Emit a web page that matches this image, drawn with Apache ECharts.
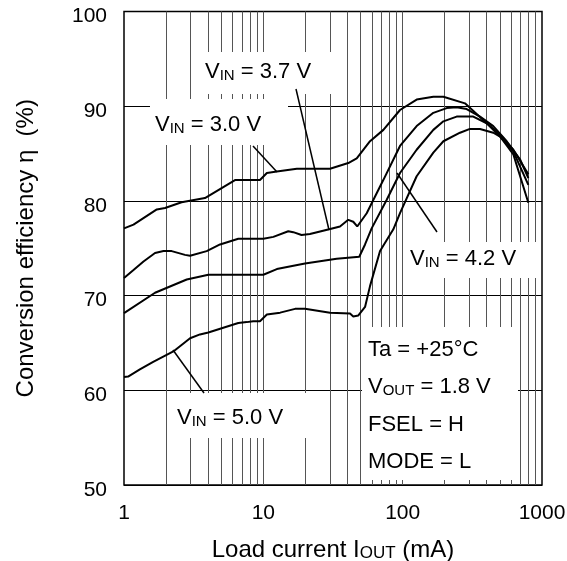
<!DOCTYPE html>
<html><head><meta charset="utf-8">
<script src="https://cdn.jsdelivr.net/npm/echarts@6/dist/echarts.min.js"></script>
<style>html,body{margin:0;padding:0;background:#fff}#c{width:567px;height:561px}</style>
</head><body><div id="c"></div>
<script>
// ---- data ----
const xTickLabels = ['1', '10', '100', '1000'];
const yTickLabels = ['50', '60', '70', '80', '90', '100'];
const gridCurrents = [2,3,4,5,6,7,8,9,10,20,30,40,50,60,70,80,90,100,200,300,400,500,600,700,800,900];

const iout_v30 = [1, 1.17, 1.72, 1.97, 2.59, 3.81, 6.26, 9.46, 10.6, 12.5, 17.4, 30.1, 40.7, 46.8, 58.3, 72.7, 95.7, 126, 166, 196, 280, 401, 500, 623, 798];
const eff_v30  = [77.1, 77.5, 79.1, 79.25, 79.85, 80.3, 82.2, 82.2, 82.95, 83.1, 83.4, 83.4, 84.0, 84.5, 86.3, 87.5, 89.6, 90.7, 91.0, 91.0, 90.3, 88.2, 86.8, 84.9, 79.8];

const iout_v37 = [1, 1.17, 1.38, 1.67, 1.92, 2.2, 2.74, 2.98, 3.92, 4.89, 6.61, 10, 11.8, 15.1, 16.4, 18.8, 21.6, 29.7, 35.5, 40.7, 44.2, 47.2, 55.2, 72.6, 95.7, 126, 166, 207, 244, 288, 359, 447, 558, 695, 798];
const eff_v37  = [71.85, 72.7, 73.6, 74.5, 74.7, 74.7, 74.3, 74.2, 74.7, 75.4, 76.0, 76.0, 76.2, 76.8, 76.7, 76.4, 76.5, 77.0, 77.3, 78.0, 77.8, 77.3, 78.7, 82.2, 85.8, 87.9, 89.3, 89.8, 89.9, 89.7, 88.9, 87.9, 86.3, 84.4, 82.4];

const iout_v42 = [1, 1.67, 2.82, 4.03, 10, 12.5, 19.9, 33.6, 48.8, 53.7, 59.9, 76.7, 95.7, 126, 166, 196, 244, 321, 401, 500, 623, 798];
const eff_v42  = [68.15, 70.3, 71.7, 72.2, 72.2, 72.8, 73.4, 73.9, 74.1, 75.4, 77.1, 80.1, 82.95, 85.4, 87.5, 88.4, 88.9, 88.9, 88.2, 87.0, 85.4, 82.8];

const iout_v50 = [1, 1.07, 1.3, 1.62, 2.26, 2.98, 3.51, 4.03, 5.16, 6.61, 7.6, 8.47, 9.46, 10.6, 13.2, 16.9, 19.9, 30.1, 41.9, 44.2, 48.1, 53.7, 58.3, 68.8, 85.7, 95.7, 126, 166, 196, 258, 304, 359, 447, 500, 623, 798];
const eff_v50  = [61.4, 61.45, 62.2, 63.0, 64.1, 65.5, 65.9, 66.1, 66.6, 67.1, 67.2, 67.3, 67.3, 68.0, 68.2, 68.6, 68.6, 68.2, 68.1, 67.8, 67.9, 68.8, 71.0, 74.7, 77.0, 78.7, 82.6, 85.1, 86.3, 87.2, 87.6, 87.6, 87.2, 86.8, 85.2, 81.7];

// ---- chart ----
const FONT = "'Liberation Sans', Arial, sans-serif";
const pairs = (xs, ys) => xs.map((x, i) => [x, ys[i]]);
const curve = (name, xs, ys) => ({
  name, type: 'line', data: pairs(xs, ys), showSymbol: false, symbol: 'none',
  smooth: false, z: 20, lineStyle: { color: '#000', width: 2 }, silent: true
});

const chart = echarts.init(document.getElementById('c'), null, { renderer: 'canvas' });

const richV = {
  a: { fontSize: 22, fontFamily: FONT, color: '#000', verticalAlign: 'bottom', lineHeight: 24 },
  b: { fontSize: 15, fontFamily: FONT, color: '#000', verticalAlign: 'bottom', lineHeight: 23 }
};
function box(x, y, w, h) {
  return { type: 'rect', z: 10, silent: true, shape: { x, y, width: w, height: h }, style: { fill: '#fff' } };
}
function richText(x, y, t) {
  return { type: 'text', z: 12, silent: true, x, y,
    style: { text: t, rich: richV, verticalAlign: 'middle', textVerticalAlign: 'middle' } };
}
function vinText(x, y, v) { return richText(x, y, '{a|V}{b|IN}{a| = ' + v + ' V}'); }
function leader(x1, y1, x2, y2) {
  return { type: 'line', z: 15, silent: true, shape: { x1, y1, x2, y2 }, style: { stroke: '#000', lineWidth: 1.5 } };
}

chart.setOption({
  animation: false,
  backgroundColor: '#fff',
  grid: { left: 124, right: 25, top: 11.5, bottom: 76, containLabel: false, outerBoundsMode: 'none',
          show: true, borderColor: '#000', borderWidth: 1.5, backgroundColor: 'transparent' },
  xAxis: {
    type: 'log', logBase: 10, min: 1, max: 1000,
    name: 'Load current I{s|OUT} (mA)', nameLocation: 'middle', nameGap: 53,
    nameTextStyle: { fontSize: 24, fontFamily: FONT, color: '#000',
      rich: { s: { fontSize: 17, fontFamily: FONT, color: '#000', verticalAlign: 'bottom', lineHeight: 23 } } },
    axisLine: { show: false }, axisTick: { show: false }, splitLine: { show: false },
    axisLabel: { fontSize: 21, fontFamily: FONT, color: '#000', margin: 18,
      formatter: (v) => xTickLabels.includes(String(Math.round(v))) ? String(Math.round(v)) : '' }
  },
  yAxis: {
    type: 'value', min: 50, max: 100, interval: 10,
    name: 'Conversion efficiency η  (%)', nameLocation: 'middle', nameGap: 86,
    nameTextStyle: { fontSize: 24, fontFamily: FONT, color: '#000' },
    axisLine: { show: false }, axisTick: { show: false },
    splitLine: { show: true, lineStyle: { color: '#000', width: 1 } },
    axisLabel: { fontSize: 21, fontFamily: FONT, color: '#000', margin: 17,
      verticalAlign: 'top', lineHeight: 10,
      formatter: (v) => yTickLabels.includes(String(v)) ? String(v) : '' }
  },
  series: [
    { name: 'grid', type: 'line', data: [], z: 1, silent: true,
      markLine: { silent: true, symbol: 'none', label: { show: false }, animation: false,
        lineStyle: { color: '#555', width: 1, type: 'solid' },
        data: gridCurrents.map(v => ({ xAxis: v })) } },
    curve('VIN = 3.0 V', iout_v30, eff_v30),
    curve('VIN = 3.7 V', iout_v37, eff_v37),
    curve('VIN = 4.2 V', iout_v42, eff_v42),
    curve('VIN = 5.0 V', iout_v50, eff_v50)
  ],
  graphic: [
    box(198, 52, 137, 42), vinText(205, 71, '3.7'),
    box(150, 99, 138, 46), vinText(155, 124, '3.0'),
    box(406, 242, 134, 36), vinText(410, 258, '4.2'),
    box(170, 393, 145, 45), vinText(177, 417, '5.0'),
    box(362, 327, 156, 153),
    richText(368, 349, '{a|Ta = +25°C}'),
    richText(368, 386, '{a|V}{b|OUT}{a| = 1.8 V}'),
    richText(368, 424, '{a|FSEL = H}'),
    richText(368, 461, '{a|MODE = L}'),
    leader(296, 89, 329, 230),
    leader(253, 146, 277, 172),
    leader(397, 173, 437, 232),
    leader(173, 350, 204, 393)
  ]
});
</script>
</body></html>
